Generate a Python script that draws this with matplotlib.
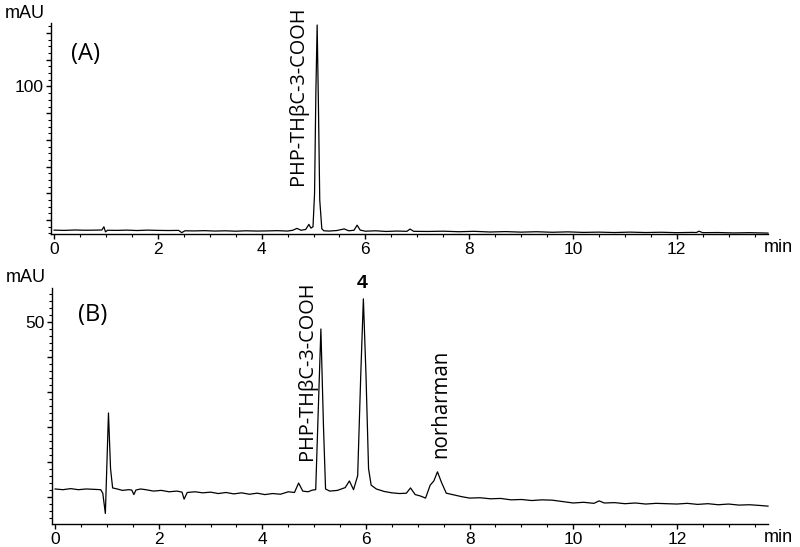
import matplotlib
matplotlib.use("Agg")
import matplotlib.pyplot as plt
from matplotlib.ticker import MultipleLocator, FixedLocator, FuncFormatter

# ---- data (time in min, signal in mAU) ----
time_a = [0.00, 0.2, 0.4, 0.6, 0.8, 0.92, 0.96, 0.99, 1.03, 1.2, 1.4, 1.6, 1.8, 2.0, 2.2,
          2.40, 2.46, 2.52, 2.7, 2.9, 3.1, 3.3, 3.5, 3.7, 3.9, 4.1, 4.3, 4.5, 4.6, 4.68,
          4.76, 4.85, 4.91, 4.95, 4.99, 5.02, 5.045, 5.07, 5.095, 5.12, 5.16, 5.2, 5.3,
          5.45, 5.59, 5.68, 5.78, 5.84, 5.9, 6.0, 6.2, 6.4, 6.6, 6.8, 6.86, 6.93, 7.2,
          7.5, 7.8, 8.1, 8.4, 8.7, 9.0, 9.3, 9.6, 9.9, 10.2, 10.5, 10.8, 11.1, 11.4,
          11.7, 12.0, 12.3, 12.38, 12.43, 12.5, 12.8, 13.1, 13.4, 13.76]
signal_a = [-7.5, -7.7, -7.4, -7.6, -7.5, -7.4, -5.0, -8.8, -7.6, -7.7, -7.5, -7.8, -7.5, -7.7, -7.8,
            -7.7, -9.4, -8.0, -8.1, -7.9, -8.2, -8.0, -8.3, -8.0, -8.2, -8.1, -7.9, -8.2, -7.6, -6.2,
            -7.6, -7.0, -3.2, -6.0, -5.0, 20.0, 95.0, 146.0, 85.0, 15.0, -6.5, -8.0, -8.2,
            -7.8, -6.6, -8.0, -7.6, -3.8, -7.5, -8.3, -8.0, -8.5, -8.2, -8.4, -6.7, -8.4, -8.5,
            -8.3, -8.7, -8.4, -8.9, -8.6, -9.0, -8.7, -9.1, -8.8, -9.2, -9.0, -9.3, -9.0, -9.3,
            -9.1, -9.4, -9.2, -9.3, -8.3, -9.4, -9.3, -9.6, -9.4, -9.7]

time_b = [0.00, 0.15, 0.3, 0.45, 0.6, 0.75, 0.88, 0.92, 0.97, 1.03, 1.07, 1.11, 1.2, 1.3, 1.42,
          1.48, 1.52, 1.56, 1.65, 1.75, 1.9, 2.05, 2.2, 2.35, 2.45, 2.49, 2.55, 2.7, 2.85, 3.0,
          3.15, 3.3, 3.45, 3.6, 3.75, 3.9, 4.05, 4.2, 4.35, 4.5, 4.62, 4.70, 4.78, 4.88, 4.97,
          5.03, 5.08, 5.13, 5.18, 5.22, 5.3, 5.45, 5.6, 5.68, 5.76, 5.84, 5.9, 5.95, 6.0,
          6.05, 6.1, 6.2, 6.35, 6.5, 6.65, 6.78, 6.86, 6.95, 7.05, 7.15, 7.24, 7.31, 7.38,
          7.46, 7.55, 7.7, 7.85, 8.0, 8.2, 8.4, 8.6, 8.8, 9.0, 9.2, 9.4, 9.6, 9.8, 10.0,
          10.2, 10.4, 10.5, 10.6, 10.8, 11.0, 11.2, 11.4, 11.6, 11.8, 12.0, 12.2, 12.4,
          12.6, 12.8, 13.0, 13.2, 13.4, 13.6, 13.76]
signal_b = [2.2, 2.0, 2.3, 2.0, 2.2, 2.1, 2.0, 1.0, -4.8, 23.9, 8.0, 2.5, 2.2, 1.8, 2.0,
            1.9, 0.6, 1.9, 2.2, 2.0, 1.6, 1.8, 1.4, 1.6, 1.3, -0.7, 1.2, 1.4, 1.1, 1.3,
            0.9, 1.2, 0.8, 1.1, 0.7, 1.0, 0.6, 0.9, 0.7, 1.4, 1.2, 3.9, 1.6, 1.4, 1.9,
            2.0, 25.0, 47.9, 20.0, 2.2, 1.6, 1.8, 2.6, 4.5, 2.0, 6.0, 35.0, 56.5, 35.0,
            8.0, 3.3, 2.2, 1.5, 1.1, 0.9, 1.0, 2.5, 0.6, 0.2, -0.4, 3.3, 4.5, 7.1,
            4.0, 1.0, 0.5, 0.0, -0.4, -0.3, -0.6, -0.5, -0.9, -0.8, -1.1, -0.9, -1.0, -1.4, -1.8,
            -1.6, -1.9, -1.2, -1.8, -1.7, -2.0, -1.8, -2.1, -1.9, -2.0, -2.1, -1.9, -2.2,
            -2.0, -2.3, -2.1, -2.4, -2.3, -2.5, -2.7]

panel_labels = ["(A)", "(B)"]
peak_label_main = "PHP-THβC-3-COOH"
peak_label_4 = "4"
peak_label_norharman = "norharman"
x_ticks = [0, 2, 4, 6, 8, 10, 12]

tick_font = "Liberation Sans"
label_font = "Open Sans"

fig = plt.figure(figsize=(8.0, 5.47), dpi=100)

W, H = 800.0, 547.0
def axes_px(left, top, right, bottom):
    return fig.add_axes([left / W, 1 - bottom / H, (right - left) / W, (bottom - top) / H])

axA = axes_px(51, 23, 768, 234)
axB = axes_px(52, 288, 768, 524)

xlim = (-0.06, 13.76)

def style(ax, ylim, major_step, minor_step, labeled):
    ax.set_xlim(*xlim)
    ax.set_ylim(*ylim)
    for s in ("top", "right"):
        ax.spines[s].set_visible(False)
    for s in ("left", "bottom"):
        ax.spines[s].set_linewidth(1.0)
    ax.xaxis.set_major_locator(FixedLocator(x_ticks))
    ax.xaxis.set_minor_locator(MultipleLocator(0.5))
    ax.yaxis.set_major_locator(MultipleLocator(major_step))
    ax.yaxis.set_minor_locator(MultipleLocator(minor_step))
    ax.yaxis.set_major_formatter(FuncFormatter(lambda v, p: f"{int(round(v))}" if abs(v - labeled) < 1e-6 else ""))
    ax.tick_params(axis="both", which="major", direction="out", length=3.5, width=1.0,
                   labelsize=12.5, pad=2)
    ax.tick_params(axis="both", which="minor", direction="out", length=2, width=0.8)
    for lab in ax.get_xticklabels() + ax.get_yticklabels():
        lab.set_fontfamily(tick_font)
    ax.patch.set_alpha(0)
    hpx = ax.get_position().height * H
    ax.text(-0.064, 1.0 + 10 / hpx, "mAU", transform=ax.transAxes,
            ha="left", va="center", fontsize=13, family=tick_font)
    ax.text(0.994, -13 / hpx, "min", transform=ax.transAxes,
            ha="left", va="center", fontsize=13, family=tick_font, clip_on=False)

style(axA, (-10.4, 147.5), 20, 5, 100)
style(axB, (-7.8, 59.6), 10, 2, 50)

axA.plot(time_a, signal_a, color="black", lw=0.9, clip_on=False)
axB.plot(time_b, signal_b, color="black", lw=0.9, clip_on=False)

# panel labels
axA.text(0.32, 124, panel_labels[0], fontsize=17, family=label_font, ha="left", va="center")
axB.text(0.44, 52, panel_labels[1], fontsize=17, family=label_font, ha="left", va="center")

# peak annotations
axA.text(4.70, 26, peak_label_main, rotation=90, fontsize=14.3, family=label_font,
         ha="center", va="bottom", clip_on=False)
axB.text(4.87, 10.5, peak_label_main, rotation=90, fontsize=14.3, family=label_font,
         ha="center", va="bottom", clip_on=False)
axB.text(5.93, 60.8, peak_label_4, fontsize=14, fontweight="bold", family=tick_font,
         ha="center", va="center", clip_on=False)
axB.text(7.44, 11, peak_label_norharman, rotation=90, fontsize=14.8, family=label_font,
         ha="center", va="bottom", clip_on=False)

fig.savefig("out.png", dpi=100)
